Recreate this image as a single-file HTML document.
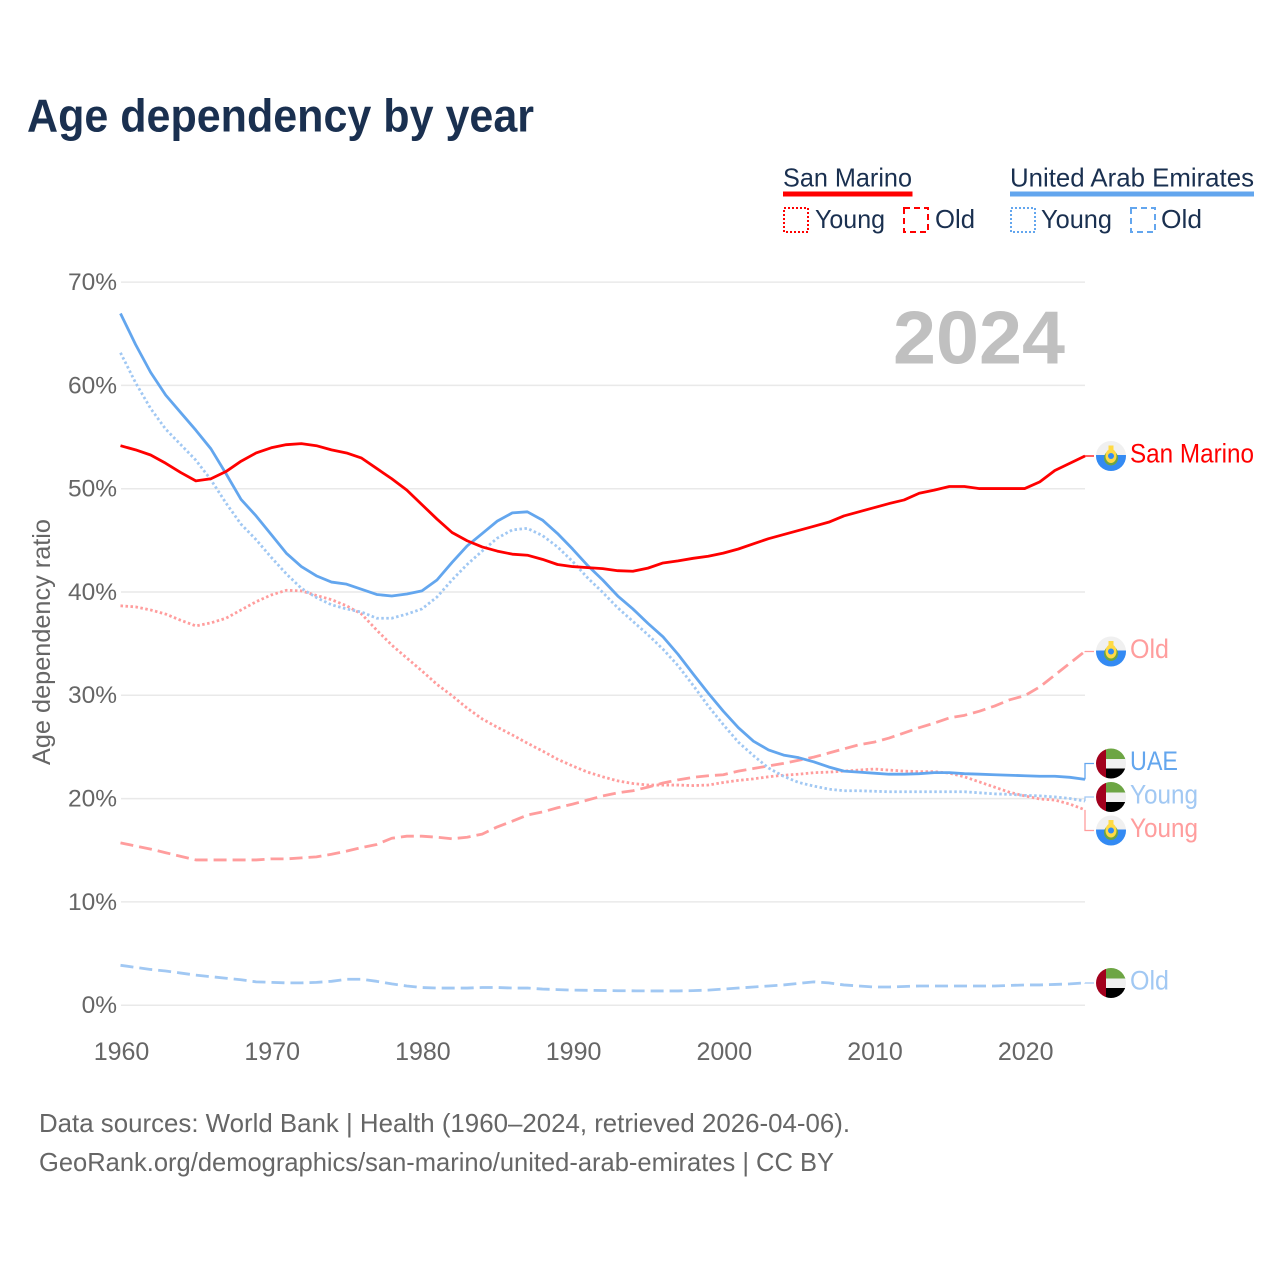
<!DOCTYPE html>
<html lang="en">
<head>
<meta charset="utf-8">
<title>Age dependency by year</title>
<style>
html,body{margin:0;padding:0;background:#fff;}
svg{display:block;}
text{font-family:"Liberation Sans",sans-serif;}
</style>
</head>
<body>
<svg id="chart" xmlns="http://www.w3.org/2000/svg" width="1280" height="1280" viewBox="0 0 1280 1280">
<defs>
<clipPath id="flag-clip"><circle cx="0" cy="0" r="15"/></clipPath>
<g id="flag-sm" clip-path="url(#flag-clip)">
<rect x="-15" y="-15" width="30" height="30" fill="#f0f0f0"/>
<rect x="-15" y="-1" width="30" height="16" fill="#338af3"/>
<ellipse cx="0" cy="2" rx="7" ry="7.5" fill="#6da544"/>
<ellipse cx="0" cy="0" rx="5.5" ry="7" fill="#ffda44"/>
<rect x="-2.5" y="-10.5" width="5" height="6" fill="#ffda44"/>
<circle cx="0" cy="0" r="3" fill="#338af3"/>
</g>
<g id="flag-uae" clip-path="url(#flag-clip)">
<rect x="-5" y="-15" width="20" height="11" fill="#6da544"/>
<rect x="-5" y="-4.5" width="20" height="10" fill="#f0f0f0"/>
<rect x="-5" y="5" width="20" height="10" fill="#000"/>
<rect x="-15" y="-15" width="10" height="30" fill="#a2001d"/>
</g>
</defs>

<text x="27" y="131.5" font-size="46" font-weight="700" fill="#1a3050" textLength="507" lengthAdjust="spacingAndGlyphs">Age dependency by year</text>

<g font-size="26" fill="#1a3050">
<text x="783" y="186.5" textLength="129" lengthAdjust="spacingAndGlyphs">San Marino</text>
<rect x="783" y="191.5" width="129.5" height="5" fill="#ff0000"/>
<rect x="784" y="208" width="24" height="24" fill="none" stroke="#ff0000" stroke-width="2" stroke-dasharray="2 2"/>
<text x="815" y="228" textLength="70" lengthAdjust="spacingAndGlyphs">Young</text>
<rect x="904" y="208" width="24" height="24" fill="none" stroke="#ff0000" stroke-width="2" stroke-dasharray="6 4"/>
<text x="935" y="228" textLength="40" lengthAdjust="spacingAndGlyphs">Old</text>

<text x="1010" y="186.5" textLength="244" lengthAdjust="spacingAndGlyphs">United Arab Emirates</text>
<rect x="1010" y="191.5" width="244" height="5" fill="#63a6ee"/>
<rect x="1011" y="208" width="24" height="24" fill="none" stroke="#63a6ee" stroke-width="2" stroke-dasharray="2 2"/>
<text x="1041" y="228" textLength="71" lengthAdjust="spacingAndGlyphs">Young</text>
<rect x="1131" y="208" width="24" height="24" fill="none" stroke="#63a6ee" stroke-width="2" stroke-dasharray="6 4"/>
<text x="1161" y="228" textLength="41" lengthAdjust="spacingAndGlyphs">Old</text>
</g>

<g id="grid"></g>
<g id="y-axis"></g>
<g id="x-axis"></g>

<text transform="translate(50,642) rotate(-90)" text-anchor="middle" font-size="25" fill="#666666" textLength="246" lengthAdjust="spacingAndGlyphs">Age dependency ratio</text>

<text x="1065" y="363.5" text-anchor="end" font-size="75" font-weight="700" fill="#c0c0c0" textLength="172" lengthAdjust="spacingAndGlyphs">2024</text>

<g id="series"></g>
<g id="end-labels"></g>

<g font-size="26" fill="#666666">
<text x="39" y="1132" textLength="811" lengthAdjust="spacingAndGlyphs">Data sources: World Bank | Health (1960–2024, retrieved 2026-04-06).</text>
<text x="39" y="1171" textLength="795" lengthAdjust="spacingAndGlyphs">GeoRank.org/demographics/san-marino/united-arab-emirates | CC BY</text>
</g>
</svg>

<script>
const years = [1960,1961,1962,1963,1964,1965,1966,1967,1968,1969,1970,1971,1972,1973,1974,1975,1976,1977,1978,1979,1980,1981,1982,1983,1984,1985,1986,1987,1988,1989,1990,1991,1992,1993,1994,1995,1996,1997,1998,1999,2000,2001,2002,2003,2004,2005,2006,2007,2008,2009,2010,2011,2012,2013,2014,2015,2016,2017,2018,2019,2020,2021,2022,2023,2024];
const xTickYears = [1960,1970,1980,1990,2000,2010,2020];
const yTickValues = [0,10,20,30,40,50,60,70];
const yTickLabels = ["0%","10%","20%","30%","40%","50%","60%","70%"];

const smTotal = [54.2,53.8,53.3,52.5,51.6,50.8,51.0,51.7,52.7,53.5,54.0,54.3,54.4,54.2,53.8,53.5,53.0,52.0,51.0,49.9,48.5,47.1,45.8,45.0,44.4,44.0,43.7,43.6,43.2,42.7,42.5,42.4,42.3,42.1,42.05,42.35,42.85,43.05,43.3,43.5,43.8,44.2,44.7,45.2,45.6,46.0,46.4,46.8,47.4,47.8,48.2,48.6,48.95,49.6,49.9,50.25,50.25,50.05,50.05,50.05,50.05,50.7,51.8,52.5,53.2];
const smYoung = [38.7,38.6,38.3,37.9,37.3,36.75,37.05,37.5,38.3,39.1,39.75,40.2,40.15,39.7,39.3,38.7,37.9,36.35,34.9,33.65,32.4,31.1,30.0,28.8,27.75,26.95,26.2,25.4,24.65,23.85,23.2,22.6,22.15,21.75,21.5,21.35,21.35,21.35,21.3,21.35,21.6,21.8,21.95,22.15,22.3,22.4,22.55,22.6,22.7,22.8,22.9,22.8,22.7,22.65,22.65,22.5,22.15,21.65,21.15,20.65,20.3,20.0,19.9,19.5,18.95];
const smOld = [15.75,15.45,15.15,14.8,14.45,14.1,14.1,14.1,14.1,14.1,14.2,14.2,14.3,14.4,14.65,14.95,15.3,15.6,16.2,16.4,16.4,16.3,16.15,16.3,16.6,17.3,17.85,18.45,18.75,19.15,19.5,19.9,20.3,20.6,20.8,21.15,21.55,21.85,22.1,22.25,22.35,22.7,22.95,23.2,23.45,23.75,24.05,24.45,24.85,25.25,25.5,25.9,26.4,26.9,27.35,27.85,28.1,28.5,29.0,29.6,30.0,30.85,32.0,33.15,34.3];
const uaeTotal = [67.0,64.0,61.3,59.1,57.4,55.7,53.9,51.5,49.0,47.4,45.6,43.8,42.5,41.6,41.0,40.8,40.3,39.8,39.65,39.85,40.15,41.2,42.9,44.5,45.7,46.9,47.7,47.8,47.0,45.7,44.2,42.6,41.2,39.65,38.4,37.0,35.7,34.0,32.1,30.25,28.5,26.9,25.6,24.75,24.25,24.0,23.6,23.1,22.7,22.6,22.5,22.4,22.4,22.45,22.55,22.55,22.45,22.4,22.35,22.3,22.25,22.2,22.2,22.1,21.9];
const uaeYoung = [63.2,60.3,57.8,55.8,54.3,52.8,50.9,48.65,46.6,45.1,43.4,41.8,40.4,39.5,38.8,38.4,38.1,37.5,37.5,37.9,38.4,39.55,41.2,42.7,44.0,45.25,46.05,46.2,45.5,44.4,43.0,41.4,40.0,38.5,37.2,35.9,34.5,32.9,31.0,29.0,27.2,25.5,24.2,23.0,22.2,21.6,21.25,20.95,20.8,20.8,20.75,20.7,20.7,20.7,20.7,20.7,20.7,20.6,20.5,20.45,20.35,20.3,20.2,20.05,19.8];
const uaeOld = [3.9,3.7,3.5,3.35,3.15,2.95,2.8,2.65,2.5,2.3,2.25,2.2,2.2,2.25,2.35,2.55,2.55,2.35,2.1,1.9,1.75,1.7,1.7,1.7,1.75,1.75,1.7,1.7,1.6,1.55,1.5,1.48,1.46,1.44,1.43,1.42,1.42,1.42,1.45,1.5,1.6,1.7,1.8,1.9,2.0,2.15,2.3,2.2,2.0,1.9,1.8,1.8,1.85,1.9,1.9,1.9,1.9,1.9,1.9,1.95,2.0,2.0,2.05,2.1,2.2];

const SVG_NS = 'http://www.w3.org/2000/svg';
const xOf = function (year) { return 120.5 + (year - 1960) * 15.07; };
const yOf = function (value) { return 1005.6 - value * 10.33; };

function make(tag, attrs, parent, text) {
  const el = document.createElementNS(SVG_NS, tag);
  Object.keys(attrs).forEach(function (k) { el.setAttribute(k, attrs[k]); });
  if (text !== undefined) el.textContent = text;
  parent.appendChild(el);
  return el;
}

const grid = document.getElementById('grid');
const yAxis = document.getElementById('y-axis');
const xAxis = document.getElementById('x-axis');

yTickValues.forEach(function (v, i) {
  const line = make('line', {x1: 121, x2: 1085, y1: yOf(v) - 0.4, y2: yOf(v) - 0.4, stroke: '#e9e9e9', 'stroke-width': 1.5}, grid);
  
  
  const label = make('text', {x: 117, y: yOf(v) + 7.5, 'text-anchor': 'end', 'font-size': 24.5, fill: '#666666'}, yAxis, yTickLabels[i]);
  
  
});

xTickYears.forEach(function (yr) {
  const label = make('text', {x: xOf(yr) + 1, y: 1060, 'text-anchor': 'middle', 'font-size': 25, fill: '#666666'}, xAxis, String(yr));
  
  
});

const seriesList = [
  {id: 'uae-old', values: uaeOld, color: '#a1c8f3', dash: '13 6', width: 2.8, label: 'Old', labelWidth: 39, flag: 'flag-uae'},
  {id: 'sm-old', values: smOld, color: '#ff9d9d', dash: '13 6', width: 2.8, label: 'Old', labelWidth: 39, flag: 'flag-sm'},
  {id: 'sm-young', values: smYoung, color: '#ff9d9d', dash: '2.5 2.5', width: 2.8, label: 'Young', labelWidth: 68, flag: 'flag-sm'},
  {id: 'uae-young', values: uaeYoung, color: '#a1c8f3', dash: '2.5 2.5', width: 2.8, label: 'Young', labelWidth: 68, flag: 'flag-uae'},
  {id: 'uae-total', values: uaeTotal, color: '#63a6ee', dash: '', width: 2.8, label: 'UAE', labelWidth: 48, flag: 'flag-uae'},
  {id: 'sm-total', values: smTotal, color: '#ff0000', dash: '', width: 2.8, label: 'San Marino', labelWidth: 124, flag: 'flag-sm'}
];

const seriesGroup = document.getElementById('series');
seriesList.forEach(function (s) {
  const d = s.values.map(function (v, i) {
    return (i ? 'L' : 'M') + xOf(years[i]).toFixed(2) + ' ' + yOf(v).toFixed(2);
  }).join(' ');
  const attrs = {d: d, fill: 'none', stroke: s.color, 'stroke-width': s.width, 'stroke-linejoin': 'round'};
  if (s.dash) attrs['stroke-dasharray'] = s.dash;
  const path = make('path', attrs, seriesGroup);
  
  
});

/* end labels: spread overlapping labels evenly around their mean */
const GAP = 33.5;
const placed = seriesList.map(function (s) {
  const endY = yOf(s.values[s.values.length - 1]);
  return {s: s, endY: endY, y: endY};
}).sort(function (a, b) { return a.endY - b.endY; });

let clusters = placed.map(function (p) { return {items: [p], mean: p.endY}; });
let merged = true;
while (merged) {
  merged = false;
  for (let i = 0; i < clusters.length - 1; i++) {
    const a = clusters[i], b = clusters[i + 1];
    const aBottom = a.mean + (a.items.length - 1) * GAP / 2;
    const bTop = b.mean - (b.items.length - 1) * GAP / 2;
    if (bTop - aBottom < GAP) {
      const items = a.items.concat(b.items);
      const mean = items.reduce(function (t, p) { return t + p.endY; }, 0) / items.length;
      clusters.splice(i, 2, {items: items, mean: mean});
      merged = true;
      break;
    }
  }
}
clusters.forEach(function (c) {
  c.items.forEach(function (p, i) {
    p.y = c.mean + (i - (c.items.length - 1) / 2) * GAP;
  });
});

const labelGroup = document.getElementById('end-labels');
placed.forEach(function (p) {
  const s = p.s;
  const ly = Math.round(p.y * 2) / 2;
  const conn = make('path', {d: 'M1085 ' + p.endY.toFixed(2) + ' V' + ly + ' H1094', fill: 'none', stroke: s.color, 'stroke-width': 1.3}, labelGroup);
  
  
  const flag = make('use', {href: '#' + s.flag, x: 1111, y: ly}, labelGroup);
  
  
  const txt = make('text', {x: 1130, y: ly + 6.5, 'font-size': 27, fill: s.color, textLength: s.labelWidth, lengthAdjust: 'spacingAndGlyphs'}, labelGroup, s.label);
  
  
});
</script>
</body>
</html>
